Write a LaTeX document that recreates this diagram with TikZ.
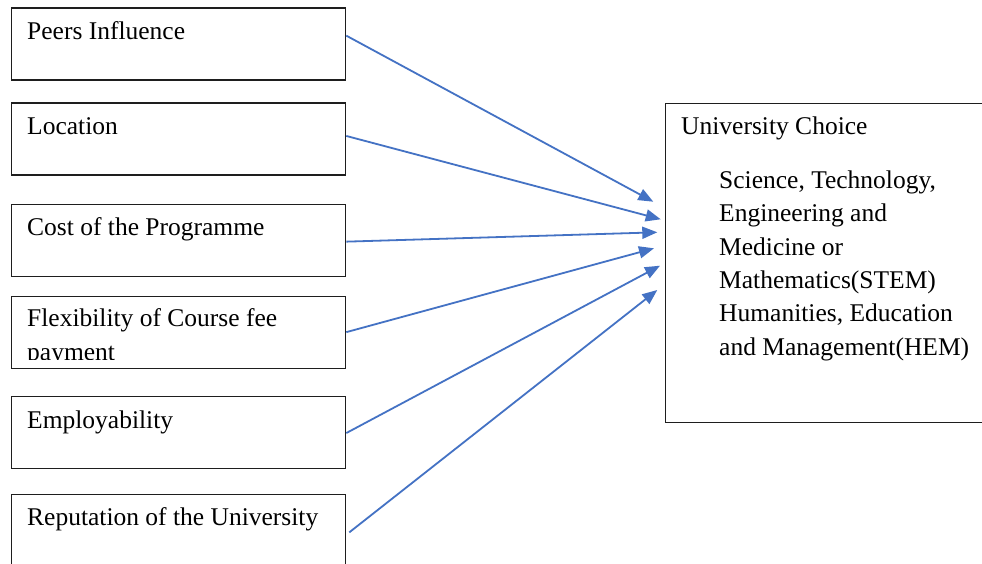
\documentclass[tikz,border=0pt]{standalone}
\usepackage{fontspec}
\setmainfont{Liberation Serif}
\usetikzlibrary{arrows.meta}
\definecolor{linkblue}{RGB}{68,114,196}
\definecolor{frame}{RGB}{30,30,30}
\begin{document}
\begin{tikzpicture}[x=1pt,y=-1pt,
  factor/.style={draw=frame, line width=1.3pt, minimum width=334pt,
    minimum height=72pt, inner sep=0pt, anchor=north west},
  outcome/.style={draw=frame, line width=1.3pt, minimum width=340pt,
    minimum height=319pt, inner sep=0pt, anchor=north west},
  txt/.style={anchor=base west, inner sep=0pt, font=\fontsize{25.5}{33.3}\selectfont},
  link/.style={draw=linkblue, line width=1.8pt,
    -{Triangle[length=15pt,width=12pt]}}
]
\path[use as bounding box, clip] (0,0) rectangle (982,564);
\fill[white] (0,0) rectangle (982,564);

% factor boxes
\node[factor] (p1) at (11,7.3) {};
\node[factor] (p2) at (11,102.3) {};
\node[factor] (p3) at (11,204) {};
\node[factor] (p4) at (11,296) {};
\node[factor] (p5) at (11,395.7) {};
\node[factor, minimum height=80pt] (p6) at (11,494) {};

% outcome box
\node[outcome] (uc) at (665,102.7) {};

% factor labels
\node[txt] (l1) at (27,39.3) {Peers Influence};
\node[txt] (l2) at (27,134.3) {Location};
\node[txt] (l3) at (27,235.7) {Cost of the Programme};
\node[txt] (l4) at (27,326.7) {Flexibility of Course fee};
\begin{scope}
  \clip (11,296) rectangle (345,359);
  \node[txt] (l4b) at (27,360) {payment};
\end{scope}
\node[txt] (l5) at (27,428.3) {Employability};
\node[txt] (l6) at (27,525) {Reputation of the University};

% outcome labels
\node[txt] (u0) at (681,134.3) {University Choice};
\node[txt] (u1) at (719,188.7) {Science, Technology,};
\node[txt] (u2) at (719,222) {Engineering and};
\node[txt] (u3) at (719,255.3) {Medicine or};
\node[txt] (u4) at (719,288.6) {Mathematics(STEM)};
\node[txt] (u5) at (719,321.9) {Humanities, Education};
\node[txt] (u6) at (719,355.2) {and Management(HEM)};

% arrow tips in front of the outcome box
\coordinate (t1) at (653.3,201.7);
\coordinate (t2) at (660.7,219.3);
\coordinate (t3) at (657.3,232.3);
\coordinate (t4) at (654,248.3);
\coordinate (t5) at (660,265.7);
\coordinate (t6) at (657.3,290);

\draw[link] ([yshift=8.3pt]p1.east) -- (t1);
\draw[link] ([yshift=3pt]p2.east) -- (t2);
\draw[link] ([yshift=-1pt]p3.east) -- (t3);
\draw[link] ([yshift=0.5pt]p4.east) -- (t4);
\draw[link] ([yshift=-0.7pt]p5.east) -- (t5);
\draw[link] ([xshift=3pt,yshift=2.3pt]p6.east) -- (t6);
\end{tikzpicture}
\end{document}
